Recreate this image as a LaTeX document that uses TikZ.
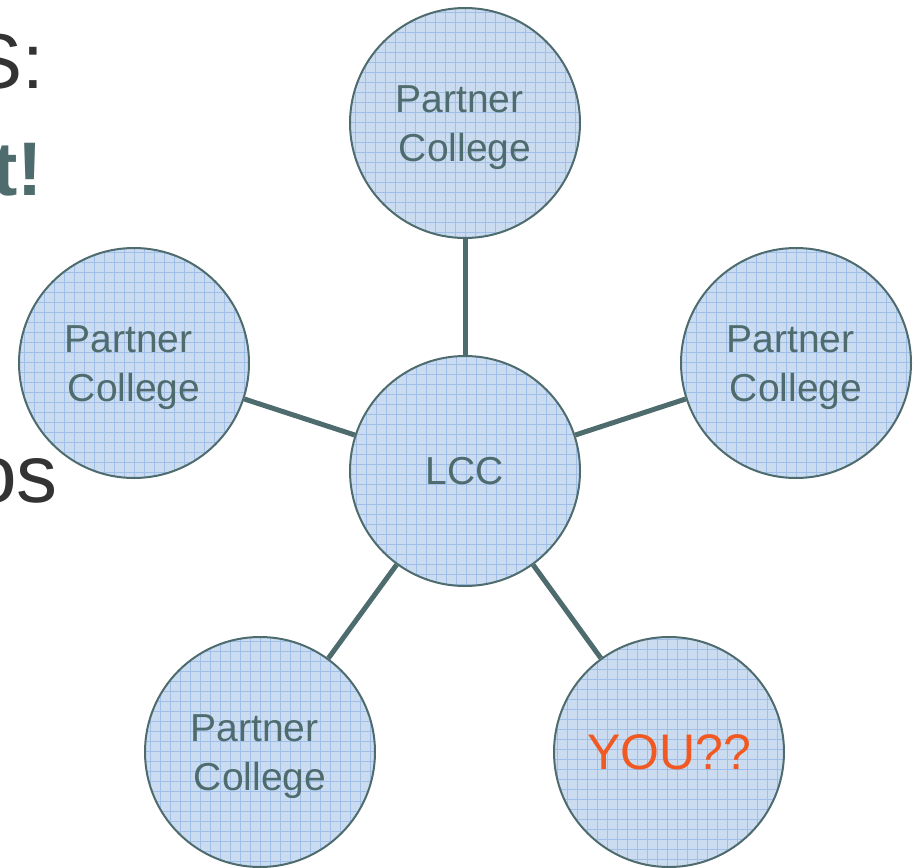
\documentclass[tikz,border=0pt]{standalone}
\usepackage{fontspec}
\setmainfont{Liberation Sans}
\definecolor{edgec}{HTML}{4E6B6E}
\definecolor{textc}{HTML}{4E6B6E}
\definecolor{fillc}{HTML}{CCDCF0}
\definecolor{gridc}{HTML}{A0BFE8}
\definecolor{youc}{HTML}{F05A22}
\definecolor{darkt}{HTML}{333333}
\newcommand{\pcol}{\rule{0pt}{37pt}Partner\rule{10.8pt}{0pt}\\College}
\tikzset{
  pc/.style={circle, draw=edgec, line width=2pt, fill=fillc, minimum size=230pt,
    inner sep=0pt, text=textc, font=\fontsize{39}{49}\selectfont, align=center,
    path picture={\draw[gridc, line width=0.8pt, step=10pt]
      (path picture bounding box.south west) grid (path picture bounding box.north east);}},
  link/.style={draw=edgec, line width=5pt},
  sidetext/.style={anchor=base east, inner sep=0pt, text=darkt}
}
\begin{document}
\begin{tikzpicture}[x=1pt,y=-1pt]
\useasboundingbox (0,0) rectangle (920,867);
\node[sidetext, font=\fontsize{78}{80}\selectfont] (t1) at (44,88) {S:};
\node[sidetext, text=textc, font=\fontsize{76}{80}\selectfont\bfseries] (t2) at (43,195) {t!};
\node[sidetext, font=\fontsize{82}{84}\selectfont] (t3) at (58,502) {os};
\node[pc] (top) at (465,123) {\pcol};
\node[pc] (left) at (134,363) {\pcol};
\node[pc] (right) at (796,363) {\pcol};
\node[pc] (lcc) at (465,471) {LCC};
\node[pc] (bl) at (260,752) {\pcol};
\node[pc, text=youc, font=\fontsize{50}{56}\selectfont] (you) at (669,752) {YOU??};
\draw[link] (lcc) -- (top);
\draw[link] (lcc) -- (left);
\draw[link] (lcc) -- (right);
\draw[link] (lcc) -- (bl);
\draw[link] (lcc) -- (you);
\end{tikzpicture}
\end{document}
